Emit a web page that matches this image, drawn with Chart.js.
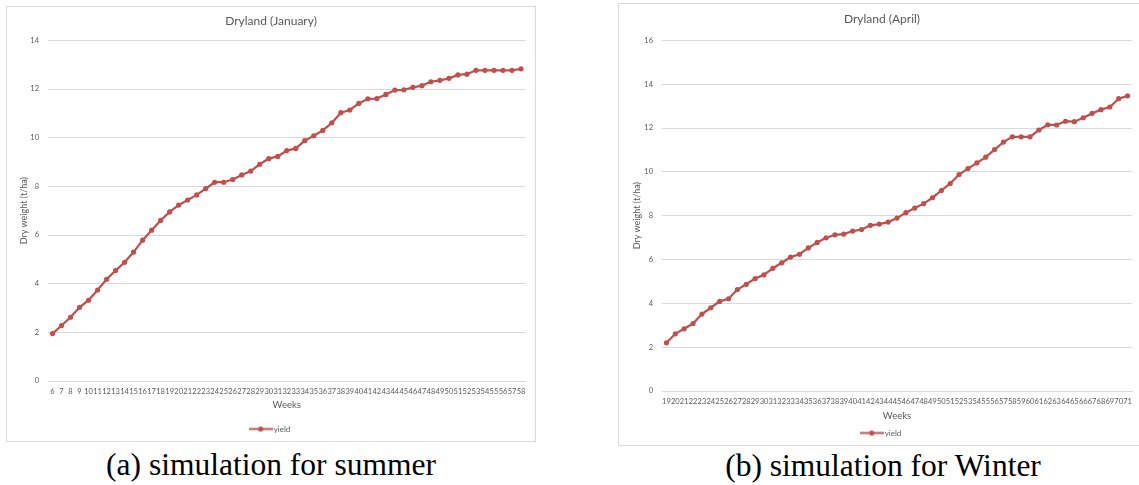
<!DOCTYPE html>
<html>
<head>
<meta charset="utf-8">
<title>Dryland yield simulations</title>
<script src="https://cdn.jsdelivr.net/npm/chart.js"></script>
<style>
  html, body { margin: 0; padding: 0; background: #fff; }
  body { width: 1139px; height: 485px; position: relative; overflow: hidden; }
  .frame { position: absolute; border: 1px solid #d9d9d9; background: #fff; }
  .frame canvas { display: block; }
  .caption {
    position: absolute; width: 530px; text-align: center; white-space: nowrap;
    font-family: 'Liberation Serif', serif; font-size: 31.5px; line-height: 31.5px; color: #000;
  }
</style>
</head>
<body>
  <div class="frame" style="left:6px; top:6px;"><canvas id="chart-summer" width="528" height="434"></canvas></div>
  <div class="caption" style="left:6px; top:449px;">(a) simulation for summer</div>

  <div class="frame" style="left:618px; top:3px;"><canvas id="chart-winter" width="528" height="441"></canvas></div>
  <div class="caption" style="left:618px; top:450px;">(b) simulation for Winter</div>

<script>
// ── DATA ─────────────────────────────────────────────────────

const weeksSummer = ['6','7','8','9','10','11','12','13','14','15','16','17','18','19','20','21','22','23','24','25','26','27','28','29','30','31','32','33','34','35','36','37','38','39','40','41','42','43','44','45','46','47','48','49','50','51','52','53','54','55','56','57','58'];
const yieldSummer = [1.95, 2.28, 2.62, 3.03, 3.32, 3.74, 4.18, 4.54, 4.88, 5.30, 5.79, 6.20, 6.60, 6.95, 7.23, 7.44, 7.65, 7.91, 8.17, 8.17, 8.28, 8.47, 8.63, 8.91, 9.14, 9.23, 9.47, 9.56, 9.88, 10.08, 10.30, 10.61, 11.03, 11.14, 11.41, 11.60, 11.61, 11.78, 11.96, 11.97, 12.07, 12.14, 12.30, 12.36, 12.44, 12.58, 12.61, 12.77, 12.77, 12.77, 12.77, 12.77, 12.83];
const yTicksSummer = [0, 2, 4, 6, 8, 10, 12, 14];

const weeksWinter = ['19','20','21','22','23','24','25','26','27','28','29','30','31','32','33','34','35','36','37','38','39','40','41','42','43','44','45','46','47','48','49','50','51','52','53','54','55','56','57','58','59','60','61','62','63','64','65','66','67','68','69','70','71'];
const yieldWinter = [2.20, 2.61, 2.84, 3.08, 3.51, 3.80, 4.09, 4.21, 4.63, 4.87, 5.13, 5.30, 5.60, 5.85, 6.11, 6.24, 6.53, 6.78, 6.99, 7.13, 7.16, 7.30, 7.37, 7.56, 7.62, 7.71, 7.89, 8.14, 8.35, 8.55, 8.82, 9.15, 9.47, 9.88, 10.15, 10.41, 10.67, 11.02, 11.36, 11.60, 11.60, 11.60, 11.91, 12.15, 12.14, 12.31, 12.29, 12.47, 12.67, 12.84, 12.96, 13.34, 13.47];
const yTicksWinter = [0, 2, 4, 6, 8, 10, 12, 14, 16];

// ── STYLE ────────────────────────────────────────────────────

const RED  = '#c0504d';
const TEXT = '#595959';
const GRID = '#d9d9d9';
const FONT = 'Lato';

document.addEventListener('DOMContentLoaded', () => {
  renderYieldChart('chart-summer', 'Dryland (January)', weeksSummer, yieldSummer, yTicksSummer, {
    padL: 9.5, padR: 9.5, titlePad: { top: 7, bottom: 12 },
    yW: 31.5, yTitlePad: 2, xH: 36, xTitlePad: 6.3, legendH: 24, legendPad: 8,
  });
  renderYieldChart('chart-winter', 'Dryland (April)', weeksWinter, yieldWinter, yTicksWinter, {
    padL: 13, padR: 15, titlePad: { top: 8, bottom: 14 },
    yW: 30, yTitlePad: 0, xH: 32, xTitlePad: 1.3, legendH: 22, legendPad: 6,
  });
});

// Excel style legend key: a short line with a marker in the middle
function legendMarker() {
  const c = document.createElement('canvas');
  c.width = 24; c.height = 7;
  const g = c.getContext('2d');
  g.strokeStyle = RED;
  g.lineWidth = 2;
  g.beginPath(); g.moveTo(0, 3.5); g.lineTo(24, 3.5); g.stroke();
  g.fillStyle = RED;
  g.beginPath(); g.arc(12, 3.5, 2.6, 0, Math.PI * 2); g.fill();
  return c;
}

// ── YIELD CHART ──────────────────────────────────────────────

function renderYieldChart(id, title, weeks, values, yTicks, box) {
  const ctx = document.getElementById(id);
  if (!ctx) return;

  new Chart(ctx, {
    type: 'line',
    data: {
      labels: weeks,
      datasets: [{
        label: 'yield',
        data: values,
        borderColor: RED,
        backgroundColor: RED,
        borderWidth: 2.25,
        tension: 0,
        pointRadius: 2.6,
        pointBorderWidth: 0,
        pointBackgroundColor: RED,
      }],
    },
    options: {
      responsive: false,
      animation: false,
      layout: { padding: { left: box.padL, right: box.padR, top: 0, bottom: 0 } },
      plugins: {
        title: {
          display: true,
          text: title,
          color: TEXT,
          font: { family: FONT, size: 12, weight: 'normal' },
          padding: box.titlePad,
        },
        legend: {
          position: 'bottom',
          maxHeight: box.legendH,
          labels: {
            color: TEXT,
            font: { family: FONT, size: 8 },
            usePointStyle: true,
            pointStyle: legendMarker(),
            pointStyleWidth: 18,
            padding: box.legendPad,
          },
        },
        tooltip: { enabled: false },
      },
      scales: {
        x: {
          offset: true,
          grid: { display: false, drawTicks: false },
          border: { color: GRID },
          ticks: {
            color: TEXT,
            font: { family: FONT, size: 7.5 },
            autoSkip: false, maxRotation: 0, minRotation: 0,
            padding: 6.5,
          },
          title: {
            display: true, text: 'Weeks', color: TEXT,
            font: { family: FONT, size: 9.5 },
            padding: { top: 0, bottom: box.xTitlePad },
          },
          afterFit: (s) => { s.height = box.xH; },
        },
        y: {
          min: yTicks[0],
          max: yTicks[yTicks.length - 1],
          grid: { color: GRID, drawTicks: false },
          border: { display: false },
          ticks: { color: TEXT, font: { family: FONT, size: 7.5 }, padding: 9 },
          title: {
            display: true, text: 'Dry weight (t/ha)', color: TEXT,
            font: { family: FONT, size: 9 },
            padding: { top: box.yTitlePad, bottom: 0 },
          },
          afterBuildTicks: (s) => { s.ticks = yTicks.map(v => ({ value: v })); },
          afterFit: (s) => { s.width = box.yW; },
        },
      },
    },
  });
}
</script>
</body>
</html>
